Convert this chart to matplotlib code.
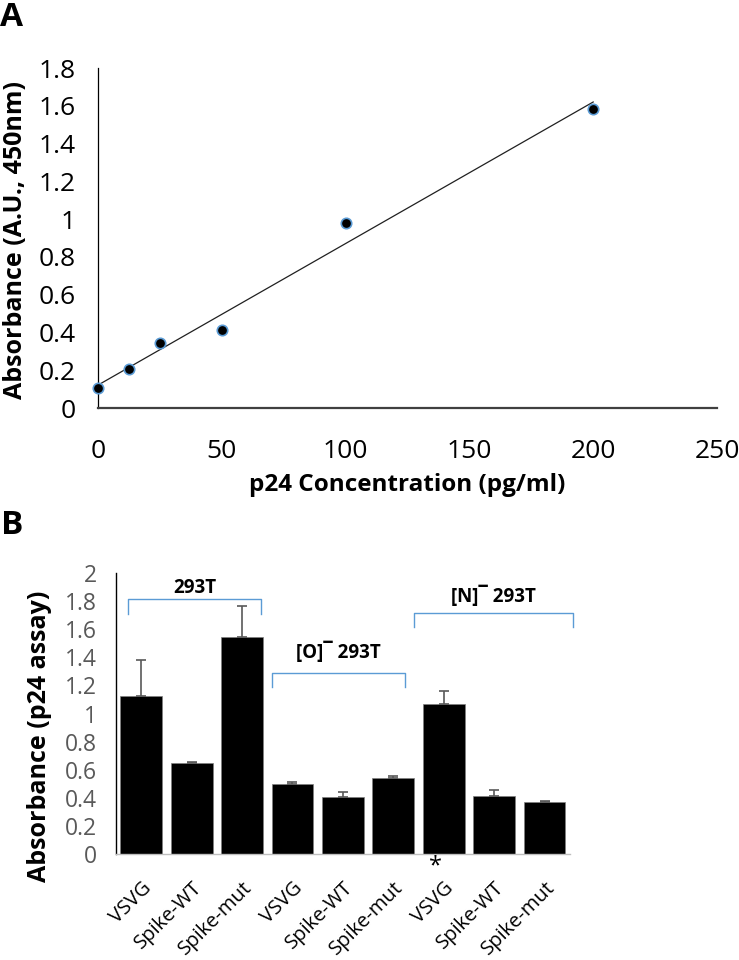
import numpy as np
import matplotlib
matplotlib.use("Agg")
import matplotlib.pyplot as plt

plt.rcParams['font.family'] = ['Open Sans', 'DejaVu Sans']

# ---- Panel A data ----
conc = [0, 12.5, 25, 50, 100, 200]
absorb = [0.104, 0.206, 0.346, 0.415, 0.979, 1.583]
a_xticks = [0, 50, 100, 150, 200, 250]
a_yticks = [0, 0.2, 0.4, 0.6, 0.8, 1.0, 1.2, 1.4, 1.6, 1.8]
a_yticklabels = ['0', '0.2', '0.4', '0.6', '0.8', '1', '1.2', '1.4', '1.6', '1.8']

# ---- Panel B data ----
b_labels = ['VSVG', 'Spike-WT', 'Spike-mut', 'VSVG', 'Spike-WT', 'Spike-mut',
            'VSVG', 'Spike-WT', 'Spike-mut']
b_values = [1.122, 0.650, 1.547, 0.500, 0.408, 0.539, 1.068, 0.413, 0.372]
b_errors = [0.257, 0.006, 0.216, 0.010, 0.031, 0.013, 0.094, 0.043, 0.005]
b_yticks = [0, 0.2, 0.4, 0.6, 0.8, 1.0, 1.2, 1.4, 1.6, 1.8, 2.0]
b_yticklabels = ['0', '0.2', '0.4', '0.6', '0.8', '1', '1.2', '1.4', '1.6', '1.8', '2']
groups = ['293T', '[O]\u00af 293T', '[N]\u00af 293T']
group_x = [(-0.26, 2.38), (2.595, 5.23), (5.407, 8.57)]
group_top = [1.813, 1.288, 1.713]
group_leg = [1.708, 1.189, 1.616]
group_text_y = [1.893, 1.438, 1.836]

fig = plt.figure(figsize=(7.39, 9.6), dpi=100)

# ---------------- Panel A ----------------
axA = fig.add_axes([0.1326, 0.575, 0.8376, 0.354])
slope, intercept = np.polyfit(conc, absorb, 1)
xfit = np.array([min(conc), max(conc)])
axA.plot(xfit, slope * xfit + intercept, color='#202020', lw=0.9, zorder=2)
axA.plot(conc, absorb, 'o', ms=7.5, mfc='black', mec='#5B9BD5', mew=1.2,
         zorder=3, clip_on=False)
axA.set_xlim(0, 250)
axA.set_ylim(0, 1.8)
axA.set_xticks(a_xticks)
axA.set_yticks(a_yticks)
axA.set_yticklabels(a_yticklabels)
axA.tick_params(axis='both', length=0, labelsize=19, colors='black')
axA.tick_params(axis='x', pad=22)
axA.tick_params(axis='y', pad=16)
for s in ['top', 'right']:
    axA.spines[s].set_visible(False)
axA.spines['left'].set_color('black')
axA.spines['left'].set_linewidth(0.9)
axA.spines['bottom'].set_color('#404040')
axA.spines['bottom'].set_linewidth(1.6)
axA.set_xlabel('p24 Concentration (pg/ml)', fontsize=17.5, fontweight='bold')
axA.xaxis.set_label_coords(0.50, -0.192)
axA.set_ylabel('Absorbance (A.U., 450nm)', fontsize=18, fontweight='bold')
axA.yaxis.set_label_coords(-0.113, 0.494)
fig.text(0.0, 0.999, 'A', fontsize=24, fontweight='bold', ha='left', va='top')

# ---------------- Panel B ----------------
axB = fig.add_axes([0.157, 0.1104, 0.614, 0.2927])
xpos = np.arange(len(b_values))
axB.bar(xpos, b_values, width=0.83, color='black', edgecolor='#7f7f7f', lw=0.5, zorder=2)
axB.errorbar(xpos, b_values, yerr=[np.zeros(len(b_errors)), b_errors], fmt='none',
             ecolor='#595959', elinewidth=1.2, capsize=3.3, capthick=1.2, zorder=3)
axB.set_xlim(-0.5, len(b_values) - 0.5)
axB.set_ylim(0, 2.0)
axB.set_yticks(b_yticks)
axB.set_yticklabels(b_yticklabels)
axB.set_xticks(xpos)
axB.set_xticklabels(b_labels, rotation=45, ha='right', rotation_mode='anchor')
axB.tick_params(axis='y', length=0, labelsize=16.5, labelcolor='#595959', pad=14)
axB.tick_params(axis='x', length=0, labelsize=14.5, labelcolor='black', pad=17)
for s in ['top', 'right']:
    axB.spines[s].set_visible(False)
axB.spines['left'].set_color('black')
axB.spines['left'].set_linewidth(1.0)
axB.spines['bottom'].set_color('#BFBFBF')
axB.spines['bottom'].set_linewidth(1.0)
axB.set_ylabel('Absorbance (p24 assay)', fontsize=18, fontweight='bold')
axB.yaxis.set_label_coords(-0.142, 0.418)

bracket_color = '#5B9BD5'
for name, (x0, x1), yt, yl, ty in zip(groups, group_x, group_top, group_leg, group_text_y):
    axB.plot([x0, x0, x1, x1], [yl, yt, yt, yl], color=bracket_color, lw=1.0,
             clip_on=False, zorder=4)
    axB.text((x0 + x1) / 2, ty, name, fontsize=13.5, fontweight='bold',
             ha='center', va='center', clip_on=False)

axB.text(5.83, -0.13, '*', fontsize=17, ha='center', va='baseline',
         transform=axB.transData, clip_on=False)
fig.text(0.002, 0.470, 'B', fontsize=24, fontweight='bold', ha='left', va='top')

fig.savefig('out.png', dpi=100)
